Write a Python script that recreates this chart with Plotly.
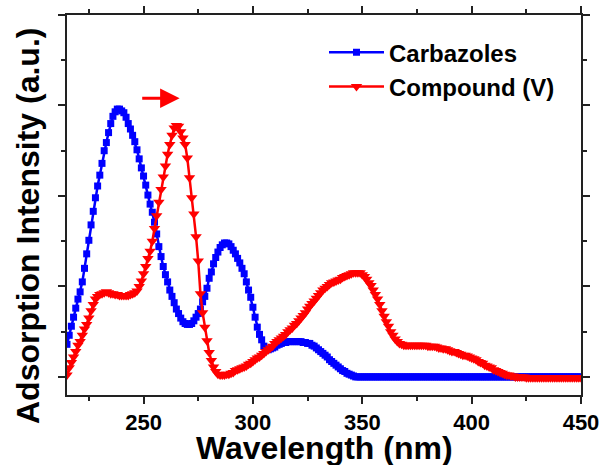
import plotly.graph_objects as go

# Wavelength grid (nm), one point per nm, 215..450
wavelength = list(range(215, 451))

carbazoles = [
    0.36, 0.46, 0.56, 0.66, 0.76, 0.86, 0.94, 1.05, 1.20, 1.36,   # 215-224
    1.51, 1.68, 1.83, 1.98, 2.11, 2.23, 2.36, 2.50, 2.59, 2.70,   # 225-234
    2.80, 2.88, 2.93, 2.96, 2.96, 2.94, 2.92, 2.87, 2.80, 2.74,   # 235-244
    2.67, 2.60, 2.51, 2.41, 2.31, 2.22, 2.12, 2.01, 1.91, 1.82,   # 245-254
    1.71, 1.58, 1.44, 1.33, 1.22, 1.13, 1.05, 0.96, 0.89, 0.82,   # 255-264
    0.75, 0.70, 0.65, 0.61, 0.59, 0.58, 0.58, 0.59, 0.62, 0.66,   # 265-274
    0.70, 0.75, 0.83, 0.89, 0.98, 1.09, 1.16, 1.25, 1.32, 1.38,   # 275-284
    1.43, 1.46, 1.48, 1.48, 1.47, 1.44, 1.40, 1.36, 1.31, 1.26,   # 285-294
    1.20, 1.14, 1.05, 0.96, 0.88, 0.77, 0.66, 0.55, 0.47, 0.41,   # 295-304
    0.34, 0.30, 0.30, 0.31, 0.32, 0.33, 0.35, 0.36, 0.37, 0.38,   # 305-314
    0.38, 0.39, 0.39, 0.39, 0.39, 0.39, 0.39, 0.39, 0.38, 0.38,   # 315-324
    0.37, 0.37, 0.35, 0.34, 0.32, 0.30, 0.28, 0.26, 0.24, 0.22,   # 325-334
    0.19, 0.17, 0.15, 0.13, 0.11, 0.09, 0.07, 0.06, 0.04, 0.03,   # 335-344
    0.02, 0.01, 0.00, 0.00, 0.00, 0.00, 0.00, 0.00, 0.00, 0.00,   # 345-354
    0.00, 0.00, 0.00, 0.00, 0.00, 0.00, 0.00, 0.00, 0.00, 0.00,   # 355-364
    0.00, 0.00, 0.00, 0.00, 0.00, 0.00, 0.00, 0.00, 0.00, 0.00,   # 365-374
    0.00, 0.00, 0.00, 0.00, 0.00, 0.00, 0.00, 0.00, 0.00, 0.00,   # 375-384
    0.00, 0.00, 0.00, 0.00, 0.00, 0.00, 0.00, 0.00, 0.00, 0.00,   # 385-394
    0.00, 0.00, 0.00, 0.00, 0.00, 0.00, 0.00, 0.00, 0.00, 0.00,   # 395-404
    0.00, 0.00, 0.00, 0.00, 0.00, 0.00, 0.00, 0.00, 0.00, 0.00,   # 405-414
    0.00, 0.00, 0.00, 0.00, 0.00, 0.00, 0.00, 0.00, 0.00, 0.00,   # 415-424
    0.00, 0.00, 0.00, 0.00, 0.00, 0.00, 0.00, 0.00, 0.00, 0.00,   # 425-434
    0.00, 0.00, 0.00, 0.00, 0.00, 0.00, 0.00, 0.00, 0.00, 0.00,   # 435-444
    0.00, 0.00, 0.00, 0.00, 0.00, 0.00,                           # 445-450
]

compound_v = [
    0.02, 0.10, 0.16, 0.22, 0.28, 0.35, 0.39, 0.46, 0.53, 0.58,   # 215-224
    0.65, 0.73, 0.80, 0.86, 0.89, 0.91, 0.92, 0.93, 0.94, 0.93,   # 225-234
    0.92, 0.92, 0.91, 0.91, 0.90, 0.90, 0.90, 0.90, 0.90, 0.91,   # 235-244
    0.92, 0.93, 0.95, 1.00, 1.06, 1.14, 1.22, 1.31, 1.39, 1.50,   # 245-254
    1.64, 1.78, 1.93, 2.07, 2.21, 2.33, 2.46, 2.57, 2.67, 2.75,   # 255-264
    2.78, 2.77, 2.71, 2.64, 2.57, 2.42, 2.20, 1.98, 1.80, 1.55,   # 265-274
    1.28, 0.92, 0.71, 0.55, 0.40, 0.27, 0.18, 0.11, 0.06, 0.03,   # 275-284
    0.02, 0.02, 0.02, 0.03, 0.03, 0.04, 0.05, 0.07, 0.08, 0.09,   # 285-294
    0.10, 0.11, 0.12, 0.14, 0.15, 0.17, 0.19, 0.21, 0.22, 0.24,   # 295-304
    0.26, 0.28, 0.30, 0.32, 0.34, 0.37, 0.39, 0.41, 0.43, 0.45,   # 305-314
    0.47, 0.50, 0.52, 0.54, 0.57, 0.59, 0.62, 0.65, 0.68, 0.71,   # 315-324
    0.75, 0.78, 0.81, 0.84, 0.87, 0.90, 0.93, 0.96, 0.98, 1.00,   # 325-334
    1.02, 1.04, 1.05, 1.06, 1.07, 1.08, 1.10, 1.11, 1.12, 1.13,   # 335-344
    1.14, 1.15, 1.15, 1.15, 1.15, 1.13, 1.11, 1.08, 1.04, 1.01,   # 345-354
    0.96, 0.91, 0.86, 0.80, 0.73, 0.67, 0.61, 0.56, 0.50, 0.46,   # 355-364
    0.42, 0.39, 0.37, 0.36, 0.35, 0.35, 0.35, 0.35, 0.35, 0.35,   # 365-374
    0.35, 0.35, 0.35, 0.35, 0.35, 0.34, 0.34, 0.34, 0.34, 0.33,   # 375-384
    0.32, 0.32, 0.31, 0.31, 0.30, 0.29, 0.28, 0.28, 0.27, 0.26,   # 385-394
    0.25, 0.24, 0.24, 0.23, 0.22, 0.21, 0.20, 0.19, 0.17, 0.16,   # 395-404
    0.15, 0.13, 0.12, 0.11, 0.10, 0.08, 0.07, 0.06, 0.05, 0.04,   # 405-414
    0.03, 0.02, 0.02, 0.01, 0.01, 0.00, 0.00, 0.00, 0.00, 0.00,   # 415-424
    -0.01, -0.01, -0.01, -0.01, -0.01, -0.01, -0.01, -0.01, -0.01, -0.01,  # 425-434
    -0.01, -0.01, -0.01, -0.01, -0.01, -0.01, -0.01, -0.01, -0.01, -0.01,  # 435-444
    -0.01, -0.01, -0.01, -0.01, -0.01, -0.01,                     # 445-450
]

series_names = ["Carbazoles", "Compound (V)"]
x_title = "Wavelength (nm)"
y_title = "Adsorption Intensity (a.u.)"
x_tickvals = [250, 300, 350, 400, 450]

# red-shift arrow (data coordinates)
arrow_start = (248.7, 3.08)
arrow_end = (266.5, 3.08)

FONT = "Liberation Sans, Arial, sans-serif"

fig = go.Figure()
fig.add_trace(go.Scatter(
    x=wavelength, y=carbazoles, name=series_names[0], mode="lines+markers",
    line=dict(color="#0000ff", width=2.5),
    marker=dict(symbol="square", size=7, color="#0000ff", line=dict(width=0)),
))
fig.add_trace(go.Scatter(
    x=wavelength, y=compound_v, name=series_names[1], mode="lines+markers",
    line=dict(color="#ff0000", width=2.5),
    marker=dict(symbol="triangle-down", size=10, color="#ff0000", line=dict(width=0)),
))

axis_common = dict(
    showline=True, linecolor="#222222", linewidth=2, mirror="ticks",
    ticks="outside", tickcolor="#222222", tickwidth=2, ticklen=7,
    showgrid=False, zeroline=False, automargin=False,
)

fig.update_xaxes(
    range=[215, 450], tickvals=x_tickvals,
    tickfont=dict(family=FONT, size=22, color="black", weight="bold"),
    minor=dict(dtick=25, tick0=225, ticks="outside", ticklen=4, tickwidth=2, tickcolor="#222222"),
    **axis_common,
)
fig.update_yaxes(
    range=[-0.2, 4.0], dtick=1, tick0=0, showticklabels=False,
    minor=dict(dtick=0.5, tick0=0, ticks="outside", ticklen=4, tickwidth=2, tickcolor="#222222"),
    **axis_common,
)

fig.add_annotation(
    x=0.5, y=0, xref="paper", yref="paper", text=x_title, showarrow=False,
    xanchor="center", yanchor="middle", yshift=-53, borderpad=0,
    font=dict(family=FONT, size=32, color="black", weight="bold"),
)
fig.add_annotation(
    x=0, y=0.5, xref="paper", yref="paper", text=y_title, showarrow=False,
    textangle=-90, xanchor="center", yanchor="middle", xshift=-39, yshift=-21,
    borderpad=0,
    font=dict(family=FONT, size=32, color="black", weight="bold"),
)
fig.add_annotation(
    x=arrow_end[0], y=arrow_end[1], ax=arrow_start[0], ay=arrow_start[1],
    xref="x", yref="y", axref="x", ayref="y", text="",
    showarrow=True, arrowhead=2, arrowsize=1.3, arrowwidth=3, arrowcolor="#ff0000",
)

fig.update_layout(
    width=602, height=465,
    margin=dict(l=67, r=21, t=15, b=70),
    paper_bgcolor="white", plot_bgcolor="white",
    showlegend=True,
    legend=dict(
        x=0.5, y=0.96, xanchor="left", yanchor="top",
        bgcolor="rgba(0,0,0,0)", borderwidth=0,
        font=dict(family=FONT, size=24, color="black", weight="bold"),
        itemwidth=55, tracegroupgap=0,
    ),
)

fig.write_html("out.html")
